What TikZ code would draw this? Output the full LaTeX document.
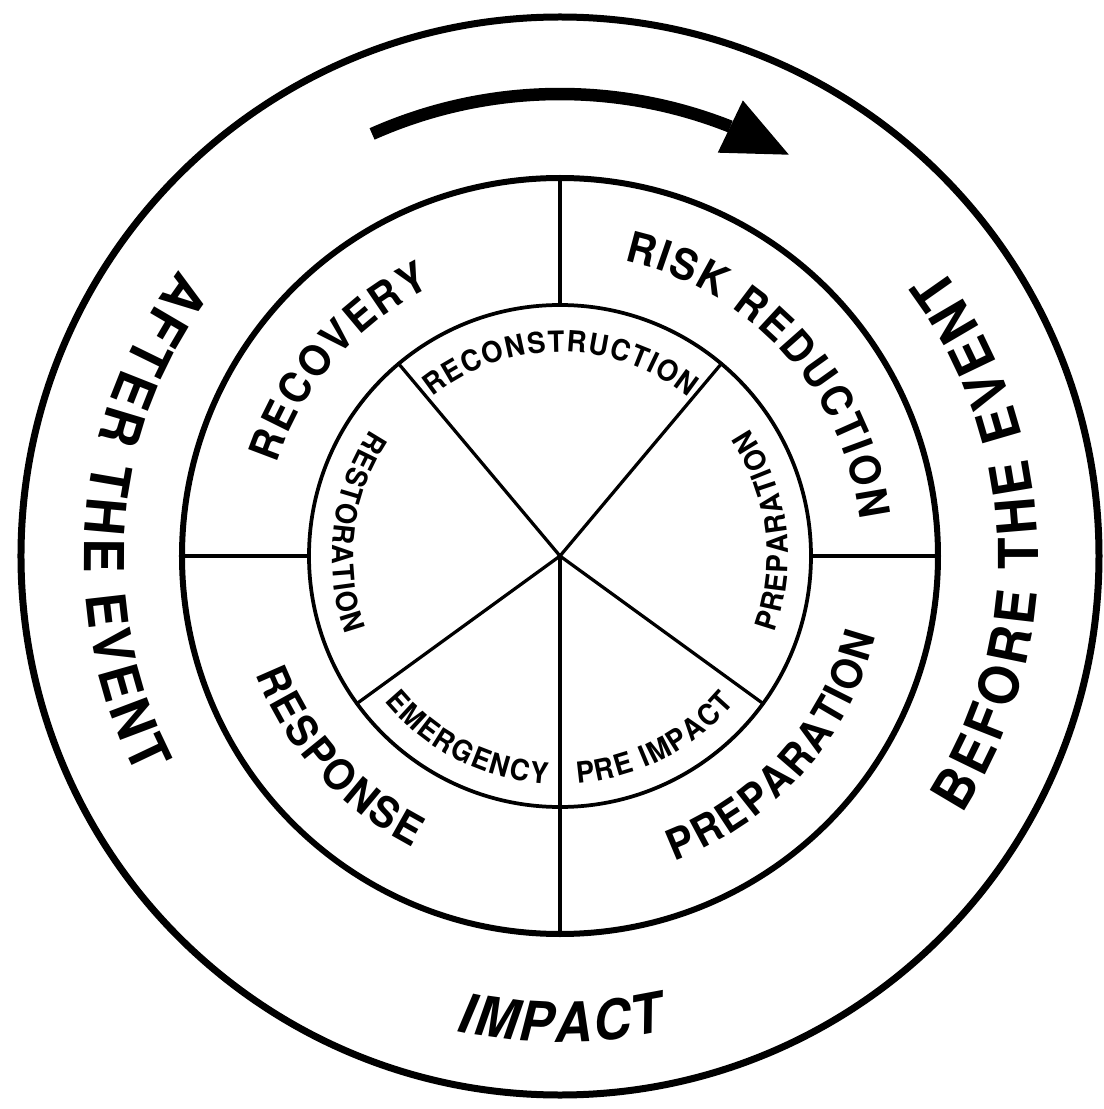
\documentclass[tikz,border=0pt]{standalone}
\usepackage{fontspec}
\setmainfont{TeX Gyre Heros}[FakeStretch=0.94]
\usetikzlibrary{arrows.meta,bending,decorations.text}
\newcommand\outertxt{\bfseries\fontsize{31.3}{32}\selectfont\kern2.4pt}
\newcommand\impacttxt{\bfseries\itshape\fontsize{31.3}{32}\selectfont\kern1.4pt}
\newcommand\midtxt{\bfseries\fontsize{24.2}{25}\selectfont\kern1.3pt}
\newcommand\innertxt{\bfseries\fontsize{16.6}{17}\selectfont\kern0.8pt}
\begin{document}
\begin{tikzpicture}[line join=round,line cap=round,x=0.02cm,y=0.02cm,
 lbl/.style={decorate,decoration={text along path,text align=center,text={#1}}}]
 \def\rout{539}\def\rmid{378}\def\rin{251}
 \fill[white] (-560,-553) rectangle (544,556);
 \coordinate (O) at (0,0);
 \draw[line width=0.14cm] (O) circle(\rout);
 \draw[line width=0.12cm] (O) circle(\rmid);
 \draw[line width=0.075cm] (O) circle(\rin);
 \draw[line width=0.08cm] (90:\rin)--(90:\rmid) (0:\rin)--(0:\rmid) (180:\rin)--(180:\rmid) (O)--(270:\rmid);
 \draw[line width=0.065cm] (O)--(50:\rin) (O)--(130:\rin) (O)--(216:\rin) (O)--(324:\rin);
 \draw[line width=0.25cm,line cap=butt,-{Triangle[length=1.3cm,width=1.16cm,line width=0pt,flex]}] (114:462) arc[start angle=114,end angle=60.3,radius=462];
 \path[lbl={|\outertxt|AFTER THE EVENT}] (95:476) arc[start angle=95,end angle=255,radius=476];
 \path[lbl={|\outertxt|BEFORE THE EVENT}] (-78:478) arc[start angle=-78,end angle=82,radius=478];
 \path[lbl={|\impacttxt|IMPACT}] (200:486) arc[start angle=200,end angle=340,radius=486];
 \path[lbl={|\midtxt|RECOVERY}] (199:298) arc[start angle=199,end angle=79,radius=298];
 \path[lbl={|\midtxt|RISK REDUCTION}] (102.5:302) arc[start angle=102.5,end angle=-17.5,radius=302];
 \path[lbl={|\midtxt|PREPARATION}] (-102:326) arc[start angle=-102,end angle=18,radius=326];
 \path[lbl={|\midtxt|RESPONSE}] (162:326) arc[start angle=162,end angle=282,radius=326];
 \path[lbl={|\innertxt|RECONSTRUCTION}] (150:204) arc[start angle=150,end angle=30,radius=204];
 \path[lbl={|\innertxt|RESTORATION}] (113:228) arc[start angle=113,end angle=233,radius=228];
 \path[lbl={|\innertxt|PREPARATION}] (-53:228) arc[start angle=-53,end angle=67,radius=228];
 \path[lbl={|\innertxt|PRE IMPACT}] (-123:228) arc[start angle=-123,end angle=-3,radius=228];
 \path[lbl={|\innertxt|EMERGENCY}] (183:228) arc[start angle=183,end angle=303,radius=228];
\end{tikzpicture}
\end{document}
